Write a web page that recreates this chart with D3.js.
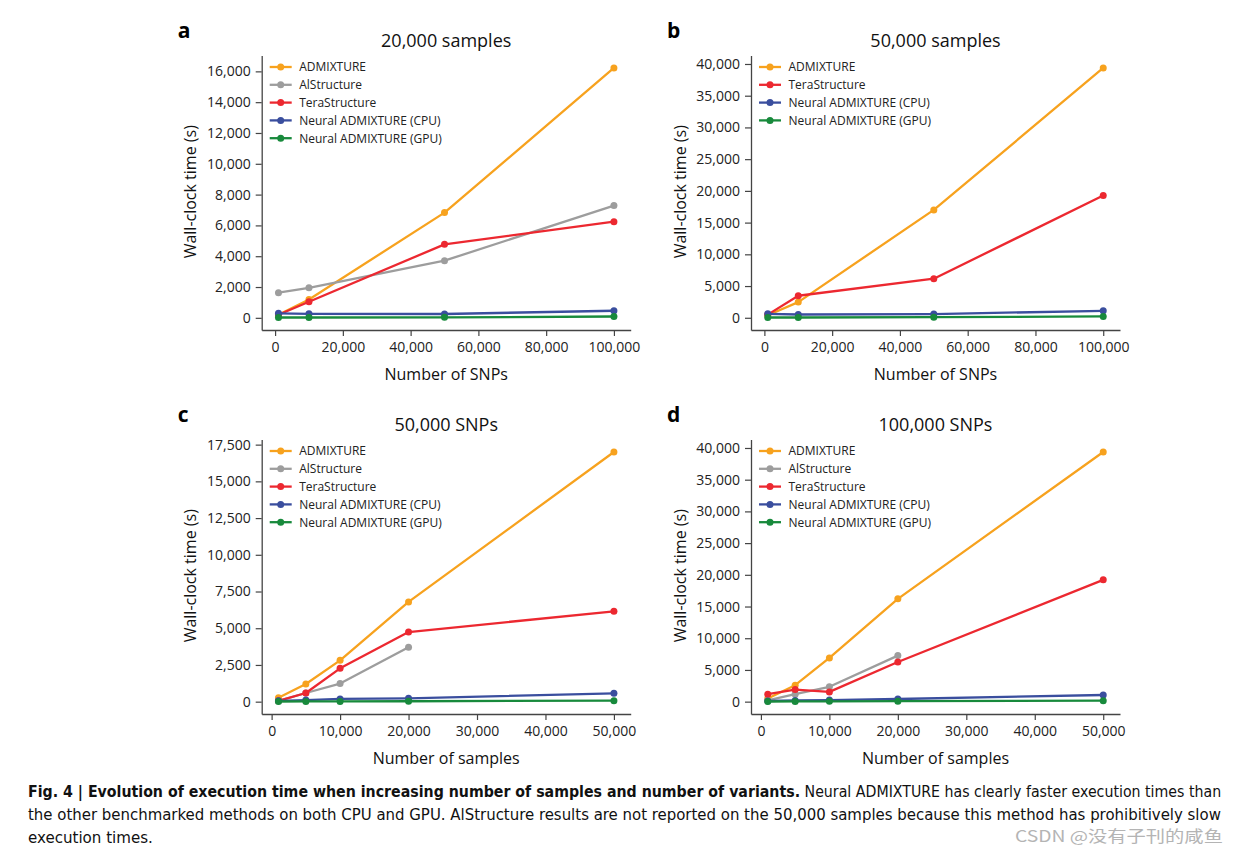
<!DOCTYPE html>
<html>
<head>
<meta charset="utf-8">
<script src="https://cdn.jsdelivr.net/npm/d3@7"></script>
<style>
  html, body { margin: 0; padding: 0; background: #ffffff; }
  svg { display: block; }
  .tick text { font-family: "Open Sans", sans-serif; fill: #222; }
</style>
</head>
<body>
<svg id="chart" width="1240" height="853"></svg>
<script>
// ---------------- DATA ----------------
const seriesNames = ["ADMIXTURE", "AlStructure", "TeraStructure", "Neural ADMIXTURE (CPU)", "Neural ADMIXTURE (GPU)"];
const seriesColors = ["#f7a21e", "#9d9d9d", "#ec2830", "#3a4e9e", "#188a3c"];

const snpValues = [1000, 10000, 50000, 100000];
const sampleValues = [1000, 5000, 10000, 20000, 50000];

// Panel a: 20,000 samples, x = number of SNPs
const aAdmixture = [200, 1190, 6830, 16220];
const aAlStructure = [1630, 1950, 3710, 7290];
const aTeraStructure = [200, 1040, 4770, 6240];
const aNeuralCPU = [290, 260, 250, 460];
const aNeuralGPU = [20, 20, 30, 85];

// Panel b: 50,000 samples, x = number of SNPs (no AlStructure)
const bAdmixture = [400, 2470, 17000, 39370];
const bTeraStructure = [500, 3470, 6160, 19260];
const bNeuralCPU = [630, 520, 580, 1100];
const bNeuralGPU = [40, 40, 90, 210];

// Panel c: 50,000 SNPs, x = number of samples
const cAdmixture = [270, 1200, 2815, 6790, 17000];
const cAlStructure = [60, 590, 1230, 3710];
const cTeraStructure = [60, 590, 2270, 4740, 6150];
const cNeuralCPU = [60, 110, 190, 230, 570];
const cNeuralGPU = [10, 15, 20, 30, 70];

// Panel d: 100,000 SNPs, x = number of samples
const dAdmixture = [500, 2600, 6900, 16210, 39370];
const dAlStructure = [200, 1170, 2340, 7260];
const dTeraStructure = [1170, 1900, 1540, 6260, 19210];
const dNeuralCPU = [100, 200, 250, 420, 1050];
const dNeuralGPU = [20, 30, 50, 80, 160];

// Tick labels
const xTicksSNPs = [0, 20000, 40000, 60000, 80000, 100000];
const xTicksSamples = [0, 10000, 20000, 30000, 40000, 50000];
const yTicksA = [0, 2000, 4000, 6000, 8000, 10000, 12000, 14000, 16000];
const yTicksB = [0, 5000, 10000, 15000, 20000, 25000, 30000, 35000, 40000];
const yTicksC = [0, 2500, 5000, 7500, 10000, 12500, 15000, 17500];
const yTicksD = [0, 5000, 10000, 15000, 20000, 25000, 30000, 35000, 40000];

const panelTitles = ["20,000 samples", "50,000 samples", "50,000 SNPs", "100,000 SNPs"];
const panelLetters = ["a", "b", "c", "d"];
const xLabels = ["Number of SNPs", "Number of SNPs", "Number of samples", "Number of samples"];
const yLabel = "Wall-clock time (s)";

const captionBold = "Fig. 4 | Evolution of execution time when increasing number of samples and number of variants.";
const captionLine1 = " Neural ADMIXTURE has clearly faster execution times than";
const captionLine2 = "the other benchmarked methods on both CPU and GPU. AlStructure results are not reported on the 50,000 samples because this method has prohibitively slow";
const captionLine3 = "execution times.";
const watermark = "CSDN @没有子刊的咸鱼";

// ---------------- BUILD ----------------
function mk(names, arrays) {
  return names.map((n, i) => ({ name: n, values: arrays[i] }));
}
const panels = [
  { x: snpValues, xTicks: xTicksSNPs, yTicks: yTicksA,
    series: mk([0,1,2,3,4], [aAdmixture, aAlStructure, aTeraStructure, aNeuralCPU, aNeuralGPU]),
    left: 261.7, top: 55.5 },
  { x: snpValues, xTicks: xTicksSNPs, yTicks: yTicksB,
    series: mk([0,2,3,4], [bAdmixture, bTeraStructure, bNeuralCPU, bNeuralGPU]),
    left: 751, top: 55.5 },
  { x: sampleValues, xTicks: xTicksSamples, yTicks: yTicksC,
    series: mk([0,1,2,3,4], [cAdmixture, cAlStructure, cTeraStructure, cNeuralCPU, cNeuralGPU]),
    left: 261.7, top: 439.5 },
  { x: sampleValues, xTicks: xTicksSamples, yTicks: yTicksD,
    series: mk([0,1,2,3,4], [dAdmixture, dAlStructure, dTeraStructure, dNeuralCPU, dNeuralGPU]),
    left: 751, top: 439.5 }
];
const PW = 369, PH = 274.5;
const svg = d3.select("#chart");
const fmt = d3.format(",");
const axisColor = "#444";

panels.forEach((p, pi) => {
  const g = svg.append("g").attr("transform", `translate(${p.left},${p.top})`);
  const xmin = d3.min(p.x), xmax = d3.max(p.x);
  const xpad = (xmax - xmin) * 0.05;
  const allY = p.series.flatMap(s => s.values);
  const ymin = d3.min(allY), ymax = d3.max(allY);
  const ypad = (ymax - ymin) * 0.05;
  const x = d3.scaleLinear().domain([xmin - xpad, xmax + xpad]).range([0, PW]);
  const y = d3.scaleLinear().domain([ymin - ypad, ymax + ypad]).range([PH, 0]);

  const xa = g.append("g").attr("transform", `translate(0,${PH})`)
    .call(d3.axisBottom(x).tickValues(p.xTicks).tickFormat(fmt).tickSize(6).tickSizeOuter(0).tickPadding(6));
  const ya = g.append("g")
    .call(d3.axisLeft(y).tickValues(p.yTicks).tickFormat(fmt).tickSize(6).tickSizeOuter(0).tickPadding(5));
  [xa, ya].forEach(a => {
    a.selectAll("path.domain").attr("stroke", axisColor).attr("stroke-width", 1.3);
    a.selectAll(".tick line").attr("stroke", axisColor).attr("stroke-width", 1.2);
    a.selectAll(".tick text").attr("font-size", 14).attr("fill", "#222");
  });

  const line = d3.line().x(d => x(d.x)).y(d => y(d.y));
  p.series.forEach(s => {
    const pts = s.values.map((v, i) => ({ x: p.x[i], y: v }));
    const col = seriesColors[s.name];
    g.append("path").datum(pts).attr("d", line)
      .attr("fill", "none").attr("stroke", col).attr("stroke-width", 2.3)
      .attr("stroke-linejoin", "round");
    g.selectAll(null).data(pts).enter().append("circle")
      .attr("cx", d => x(d.x)).attr("cy", d => y(d.y)).attr("r", 3.5)
      .attr("fill", col);
  });

  // Legend
  const lg = g.append("g").attr("transform", "translate(8,11.5)");
  p.series.forEach((s, i) => {
    const row = lg.append("g").attr("transform", `translate(0,${i * 17.8})`);
    const col = seriesColors[s.name];
    row.append("line").attr("x1", 0).attr("x2", 22).attr("y1", 0).attr("y2", 0)
      .attr("stroke", col).attr("stroke-width", 2.3);
    row.append("circle").attr("cx", 11).attr("cy", 0).attr("r", 3.5).attr("fill", col);
    row.append("text").attr("x", 29.5).attr("y", 4.3)
      .attr("font-family", "Open Sans, sans-serif").attr("font-size", 12).attr("fill", "#222")
      .text(seriesNames[s.name]);
  });

  // Title
  g.append("text").attr("x", PW / 2).attr("y", -9)
    .attr("text-anchor", "middle").attr("font-family", "Open Sans, sans-serif")
    .attr("font-size", 18).attr("fill", "#111").text(panelTitles[pi]);
  // X label
  g.append("text").attr("x", PW / 2).attr("y", PH + 50)
    .attr("text-anchor", "middle").attr("font-family", "Open Sans, sans-serif")
    .attr("font-size", 16).attr("fill", "#111").text(xLabels[pi]);
  // Y label
  g.append("text").attr("transform", `translate(${-71},${PH / 2 - 1}) rotate(-90)`)
    .attr("text-anchor", "middle").attr("dy", "0.35em").attr("font-family", "Open Sans, sans-serif")
    .attr("font-size", 16).attr("fill", "#111").text(yLabel);
  // Panel letter
  g.append("text").attr("x", -84).attr("y", -17.5)
    .attr("font-family", "Open Sans, sans-serif").attr("font-weight", "bold")
    .attr("font-size", 21).attr("fill", "#000").text(panelLetters[pi]);
});

// Caption: each line scaled horizontally to its width in the figure
const capFont = "'Liberation Sans Narrow', 'DejaVu Sans Condensed', 'Liberation Sans', sans-serif";
function captionLine(yPos, width, parts) {
  const t = svg.append("text").attr("x", 0).attr("y", 0).attr("font-family", capFont)
    .attr("font-size", 16.5).attr("fill", "#111");
  parts.forEach(pt => {
    const ts = t.append("tspan").text(pt.text);
    if (pt.bold) ts.attr("font-weight", "bold");
  });
  const natural = t.node().getComputedTextLength();
  t.attr("transform", `translate(28,${yPos}) scale(${width / natural},1)`);
}
captionLine(796.5, 1194, [{ text: captionBold, bold: true }, { text: captionLine1 }]);
captionLine(819.5, 1194, [{ text: captionLine2 }]);
captionLine(842.5, 125, [{ text: captionLine3 }]);

// Watermark
const wm = svg.append("text").attr("x", 0).attr("y", 0)
  .attr("font-family", "'Noto Sans CJK SC', sans-serif").attr("font-size", 15.5)
  .attr("fill", "#b4b4b4").text(watermark);
const wmW = wm.node().getComputedTextLength();
wm.attr("transform", `translate(1015,841.5) scale(${208 / wmW},1)`);
</script>
</body>
</html>
